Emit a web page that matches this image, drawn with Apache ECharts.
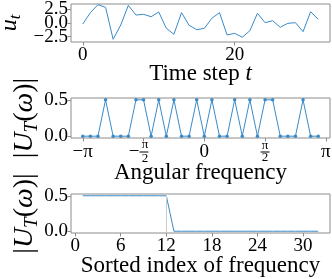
<!DOCTYPE html>
<html>
<head>
<meta charset="utf-8">
<script src="https://cdn.jsdelivr.net/npm/echarts@6/dist/echarts.min.js"></script>
<style>
html,body{margin:0;padding:0;background:#fff;}
#c{width:332px;height:279px;}
</style>
</head>
<body>
<div id="c"></div>
<script>
// ---- data ----
const timeSteps = [0,1,2,3,4,5,6,7,8,9,10,11,12,13,14,15,16,17,18,19,20,21,22,23,24,25,26,27,28,29,30,31];
const signal = [-0.18,1.90,3.37,2.89,-3.00,-0.37,3.26,1.47,1.60,1.16,2.03,-0.98,-2.08,1.90,-0.42,-1.23,
                -0.98,0.87,1.90,-2.21,-1.90,-2.63,-1.42,1.79,0.06,0.42,-0.79,-0.06,0.06,-1.60,2.08,0.68];
// angular frequency in units of pi
const freqOverPi = [-1,-0.9375,-0.875,-0.8125,-0.75,-0.6875,-0.625,-0.5625,-0.5,-0.4375,-0.375,-0.3125,-0.25,-0.1875,-0.125,-0.0625,
                    0,0.0625,0.125,0.1875,0.25,0.3125,0.375,0.4375,0.5,0.5625,0.625,0.6875,0.75,0.8125,0.875,0.9375];
const spectrum = [0,0,0,0.5,0,0,0,0.5,0.5,0,0.5,0,0.5,0,0,0.5,
                  0,0.5,0,0,0.5,0,0.5,0,0.5,0.5,0,0,0,0.5,0,0];
const sortedIndex = [1,2,3,4,5,6,7,8,9,10,11,12,13,14,15,16,17,18,19,20,21,22,23,24,25,26,27,28,29,30,31,32];
const sortedSpectrum = [0.5,0.5,0.5,0.5,0.5,0.5,0.5,0.5,0.5,0.5,0.5,0.5,0,0,0,0,0,0,0,0,0,0,0,0,0,0,0,0,0,0,0,0];
const topXTicks = [0, 20];
const topYTicksOuter = [-2.5, 2.5];
const topYTicksMiddle = [0];
const freqTicks = [-1, -0.5, 0, 0.5, 1];
const bottomXTicks = [0, 6, 12, 18, 24, 30];
const magTicks = [0, 0.5];
const cutoffIndex = 12;

// ---- styles ----
const FONT = 'Liberation Serif';
const LINE = '#3a8ac8';
const SPINE = '#8c8c8c';

function zip(a, b) { return a.map((v, i) => [v, b[i]]); }
function fmtNum(v) { const s = Math.abs(v).toFixed(1); return v < 0 ? '\u2212' + s : s; }

const tickLabel = { fontFamily: FONT, fontSize: 19, color: '#000', hideOverlap: false, showMinLabel: true, showMaxLabel: true };
const nameStyle = (extra) => Object.assign({ fontFamily: FONT, fontSize: 23, color: '#000' }, extra || {});

const magRich = {
  b: { fontFamily: FONT, fontSize: 28, lineHeight: 32, verticalAlign: 'middle' },
  i: { fontFamily: FONT, fontSize: 28, fontStyle: 'italic', lineHeight: 32, verticalAlign: 'middle' },
  s: { fontFamily: FONT, fontSize: 19, fontStyle: 'italic', lineHeight: 19, verticalAlign: 'bottom' }
};
const magName = '{b||}{i|U}{s|T}{b|(}{i|ω}{b|)|}';

const fracRich = {
  n: { fontFamily: FONT, fontSize: 13, lineHeight: 11, align: 'center' },
  sp: { width: 13, height: 1 },
  sp2: { width: 10, height: 1 },
  m: { fontFamily: FONT, fontSize: 19, lineHeight: 3 },
  bar: { width: 9, height: 1, backgroundColor: '#000' },
  t: { fontFamily: FONT, fontSize: 19, lineHeight: 19 }
};
function freqLabel(v) {
  if (v === -1) return '{t|\u2212π}';
  if (v === 1) return '{t|π}';
  if (v === 0) return '{t|0}';
  if (v === -0.5) return '{sp|}{n|π}{sp2|}\n{m|\u2212}{bar|}{sp2|}\n{sp|}{n|2}{sp2|}';
  if (v === 0.5) return '{n|π}\n{bar|}\n{n|2}';
  return '';
}

const gridBase = { left: 71, right: 2, show: true, borderColor: SPINE, borderWidth: 1, outerBoundsMode: 'none' };
const axisTickStyle = { show: true, inside: false, length: 3.5, lineStyle: { color: SPINE, width: 1 } };
const noLine = { show: false, onZero: false };

const chart = echarts.init(document.getElementById('c'), null, { renderer: 'canvas' });
chart.setOption({
  animation: false,
  backgroundColor: '#fff',
  grid: [
    Object.assign({ top: 4, height: 38 }, gridBase),
    Object.assign({ top: 98, height: 40 }, gridBase),
    Object.assign({ top: 194, height: 39 }, gridBase)
  ],
  xAxis: [
    {
      gridIndex: 0, type: 'value', min: -1.55, max: 32.55,
      axisLine: noLine, splitLine: { show: false },
      axisTick: Object.assign({ customValues: topXTicks }, axisTickStyle),
      axisLabel: Object.assign({ customValues: topXTicks, margin: 4 }, tickLabel),
      name: '{n|Time step }{i|t}', nameLocation: 'middle', nameGap: 20, nameMoveOverlap: false,
      nameTextStyle: nameStyle({ rich: {
        n: { fontFamily: FONT, fontSize: 23 },
        i: { fontFamily: FONT, fontSize: 23, fontStyle: 'italic' } } })
    },
    {
      gridIndex: 1, type: 'value', min: -1.096875, max: 1.034375,
      axisLine: noLine, splitLine: { show: false },
      axisTick: Object.assign({ customValues: freqTicks }, axisTickStyle),
      axisLabel: { customValues: freqTicks, margin: 14, verticalAlign: 'middle', hideOverlap: false,
                   showMinLabel: true, showMaxLabel: true,
                   formatter: freqLabel, rich: fracRich, color: '#000', fontFamily: FONT, fontSize: 19 },
      name: 'Angular frequency', nameLocation: 'middle', nameGap: 23, nameMoveOverlap: false,
      nameTextStyle: nameStyle()
    },
    {
      gridIndex: 2, type: 'value', min: -0.55, max: 33.55,
      axisLine: noLine, splitLine: { show: false },
      axisTick: Object.assign({ customValues: bottomXTicks }, axisTickStyle),
      axisLabel: Object.assign({ customValues: bottomXTicks, margin: 4 }, tickLabel),
      name: 'Sorted index of frequency', nameLocation: 'middle', nameGap: 21, nameMoveOverlap: false,
      nameTextStyle: nameStyle()
    }
  ],
  yAxis: [
    {
      gridIndex: 0, type: 'value', min: -3.5, max: 3.5,
      axisLine: noLine, splitLine: { show: false },
      axisTick: Object.assign({ customValues: topYTicksOuter }, axisTickStyle),
      axisLabel: Object.assign({}, tickLabel, { customValues: topYTicksOuter, margin: 3, formatter: fmtNum }),
      name: '{i|u}{s|t}', nameLocation: 'middle', nameGap: 47, nameRotate: 90, nameMoveOverlap: false,
      nameTextStyle: nameStyle({ rich: {
        i: { fontFamily: FONT, fontSize: 24, fontStyle: 'italic', lineHeight: 28, verticalAlign: 'middle' },
        s: { fontFamily: FONT, fontSize: 17, fontStyle: 'italic', lineHeight: 17, verticalAlign: 'bottom' } } })
    },
    {
      gridIndex: 1, type: 'value', min: -0.025, max: 0.525,
      axisLine: noLine, splitLine: { show: false },
      axisTick: Object.assign({ customValues: magTicks }, axisTickStyle),
      axisLabel: Object.assign({ customValues: magTicks, margin: 3, formatter: fmtNum }, tickLabel),
      name: magName, nameLocation: 'middle', nameGap: 30, nameRotate: 90, nameMoveOverlap: false,
      nameTextStyle: nameStyle({ rich: magRich })
    },
    {
      gridIndex: 2, type: 'value', min: -0.025, max: 0.525,
      axisLine: noLine, splitLine: { show: false },
      axisTick: Object.assign({ customValues: magTicks }, axisTickStyle),
      axisLabel: Object.assign({ customValues: magTicks, margin: 3, formatter: fmtNum }, tickLabel),
      name: magName, nameLocation: 'middle', nameGap: 30, nameRotate: 90, nameMoveOverlap: false,
      nameTextStyle: nameStyle({ rich: magRich })
    },
    {
      // second label set for the top panel (middle tick), same scale as yAxis 0
      gridIndex: 0, type: 'value', min: -3.5, max: 3.5, position: 'left', offset: 0,
      axisLine: noLine, splitLine: { show: false },
      axisTick: Object.assign({ customValues: topYTicksMiddle }, axisTickStyle),
      axisLabel: Object.assign({}, tickLabel, { customValues: topYTicksMiddle, margin: 3, formatter: fmtNum })
    }
  ],
  series: [
    {
      type: 'line', xAxisIndex: 0, yAxisIndex: 0, data: zip(timeSteps, signal),
      showSymbol: false, lineStyle: { color: LINE, width: 1 }, itemStyle: { color: LINE }
    },
    {
      type: 'line', xAxisIndex: 1, yAxisIndex: 1, data: zip(freqOverPi, spectrum),
      symbol: 'circle', symbolSize: 3.5, showSymbol: true,
      lineStyle: { color: LINE, width: 1 }, itemStyle: { color: LINE }
    },
    {
      type: 'line', xAxisIndex: 2, yAxisIndex: 2, data: zip(sortedIndex, sortedSpectrum),
      showSymbol: false, lineStyle: { color: LINE, width: 1 }, itemStyle: { color: LINE },
      markLine: {
        silent: true, symbol: ['none', 'none'], label: { show: false },
        lineStyle: { color: '#cccccc', width: 1, type: 'solid' },
        data: [{ xAxis: cutoffIndex }]
      }
    }
  ]
});
</script>
</body>
</html>
